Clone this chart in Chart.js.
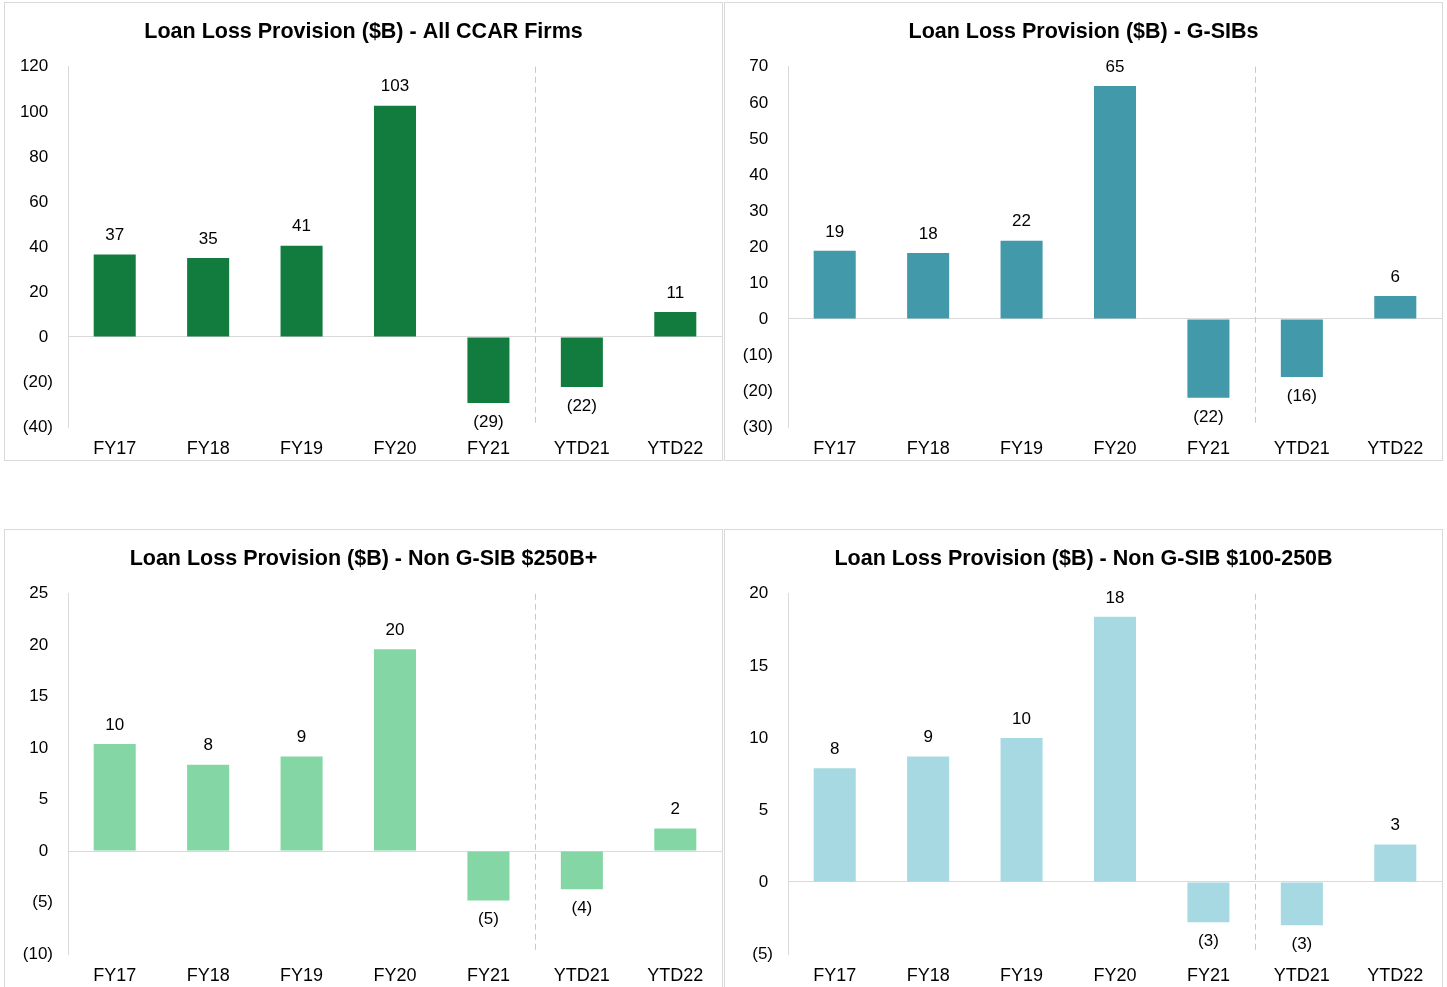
<!DOCTYPE html>
<html>
<head>
<meta charset="utf-8">
<script src="https://cdn.jsdelivr.net/npm/chart.js@4.4.1/dist/chart.umd.min.js"></script>
<style>
  body { margin: 0; background: #fff; width: 1447px; height: 987px; overflow: hidden; position: relative; }
  .panel { position: absolute; width: 717px; height: 457px; border: 1px solid #d9d9d9; }
  .panel canvas { display: block; }
</style>
</head>
<body>
<div class="panel" style="left:4px; top:2px;"><canvas id="c1" width="717" height="457"></canvas></div>
<div class="panel" style="left:724px; top:2px;"><canvas id="c2" width="717" height="457"></canvas></div>
<div class="panel" style="left:4px; top:529px;"><canvas id="c3" width="717" height="457"></canvas></div>
<div class="panel" style="left:724px; top:529px;"><canvas id="c4" width="717" height="457"></canvas></div>
<script>
const categories = ['FY17', 'FY18', 'FY19', 'FY20', 'FY21', 'YTD21', 'YTD22'];

// values in $B
const allCcar = [36.6, 35.1, 40.5, 102.7, -29.3, -22.2, 11.1];
const gsibs = [18.9, 18.3, 21.7, 64.7, -21.9, -16.1, 6.4];
const nonGsib250 = [10.4, 8.4, 9.2, 19.6, -4.8, -3.7, 2.2];
const nonGsib100 = [7.9, 8.7, 10.0, 18.4, -2.8, -3.0, 2.6];

const titles = [
  'Loan Loss Provision ($B) - All CCAR Firms',
  'Loan Loss Provision ($B) - G-SIBs',
  'Loan Loss Provision ($B) - Non G-SIB $250B+',
  'Loan Loss Provision ($B) - Non G-SIB $100-250B'
];

const FONT = '"Liberation Sans", Arial, sans-serif';

function fmt(v) {
  const r = Math.round(Math.abs(v));
  return v < 0 ? '(' + r + ')' : String(r);
}

const barLabels = {
  id: 'barLabels',
  afterDatasetsDraw(chart) {
    const ctx = chart.ctx;
    const meta = chart.getDatasetMeta(0);
    const vals = chart.data.datasets[0].data;
    ctx.save();
    ctx.font = '17px ' + FONT;
    ctx.fillStyle = '#000';
    ctx.textAlign = 'center';
    ctx.textBaseline = 'middle';
    meta.data.forEach(function (bar, i) {
      const v = vals[i];
      const y = v < 0 ? bar.y + 19 : bar.y - 19;
      ctx.fillText(fmt(v), bar.x, y);
    });
    ctx.restore();
  }
};

const divider = {
  id: 'divider',
  afterDraw(chart) {
    const x = chart.scales.x;
    const area = chart.chartArea;
    const px = (x.getPixelForValue(4) + x.getPixelForValue(5)) / 2;
    const ctx = chart.ctx;
    ctx.save();
    ctx.strokeStyle = '#c8c8c8';
    ctx.lineWidth = 1;
    ctx.setLineDash([6, 4]);
    ctx.beginPath();
    ctx.moveTo(Math.round(px) + 0.5, area.top);
    ctx.lineTo(Math.round(px) + 0.5, area.bottom);
    ctx.stroke();
    ctx.restore();
  }
};

function makeChart(id, title, values, color, min, max, step) {
  new Chart(document.getElementById(id), {
    type: 'bar',
    data: {
      labels: categories,
      datasets: [{
        data: values,
        backgroundColor: color,
        barPercentage: 0.9,
        categoryPercentage: 0.5
      }]
    },
    options: {
      responsive: false,
      animation: false,
      layout: { padding: { left: 0, right: 0, top: 0, bottom: 2 } },
      plugins: {
        legend: { display: false },
        tooltip: { enabled: false },
        title: {
          display: true,
          text: title,
          color: '#000',
          font: { family: FONT, size: 21.5, weight: 'bold' },
          padding: { top: 16, bottom: 22 }
        }
      },
      scales: {
        x: {
          afterFit(scale) { scale.height = 31; },
          grid: { display: false, drawTicks: false },
          border: { display: false },
          ticks: {
            color: '#000',
            padding: 11,
            font: { family: FONT, size: 18 }
          }
        },
        y: {
          min: min,
          max: max,
          afterFit(scale) { scale.width = 63; },
          border: { display: true, color: '#d9d9d9' },
          grid: {
            drawTicks: false,
            color(c) { return c.tick && c.tick.value === 0 ? '#d9d9d9' : 'rgba(0,0,0,0)'; }
          },
          ticks: {
            stepSize: step,
            padding: 15,
            color: '#000',
            font: { family: FONT, size: 17 },
            // positive numbers keep a trailing space so the digits line up with "(n)"
            callback(v) { return v < 0 ? fmt(v) : fmt(v) + ' '; }
          }
        }
      }
    },
    plugins: [barLabels, divider]
  });
}

makeChart('c1', titles[0], allCcar, '#127c3f', -40, 120, 20);
makeChart('c2', titles[1], gsibs, '#4299a9', -30, 70, 10);
makeChart('c3', titles[2], nonGsib250, '#84d7a4', -10, 25, 5);
makeChart('c4', titles[3], nonGsib100, '#a6d9e1', -5, 20, 5);
</script>
</body>
</html>
